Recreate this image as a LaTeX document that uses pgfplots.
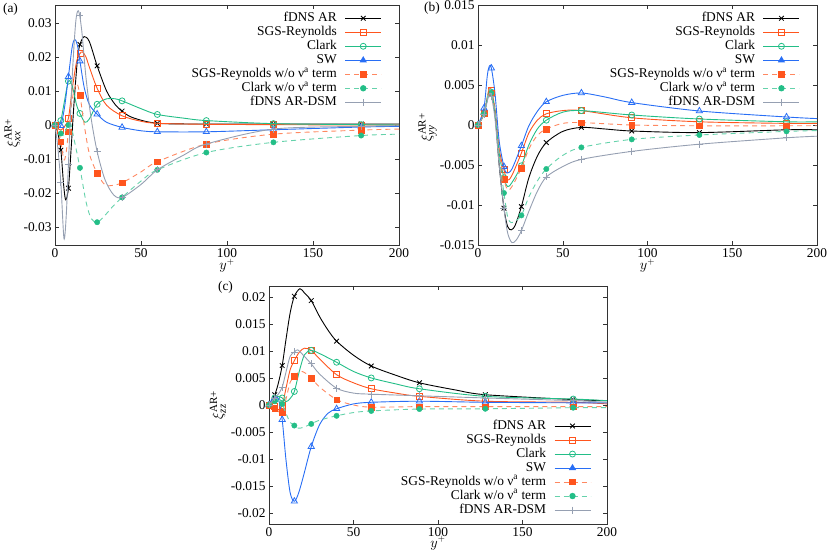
\documentclass[border=0pt]{standalone}
\usepackage{fontspec}
\setmainfont{Liberation Serif}
\usepackage{amsmath}
\usepackage{pgfplots}
\pgfplotsset{compat=1.18}
\usepackage{pgfplotstable}

\definecolor{cR}{RGB}{255,85,30}
\definecolor{cC}{RGB}{35,190,135}
\definecolor{cS}{RGB}{40,110,245}
\definecolor{cD}{RGB}{150,160,178}

% marker tables
\pgfplotstableread{
x A R C S Rw Cw D
0 0 0 0 0 0 0 0
3.4 -0.0074 -0.0015 0.0013 -0.0002 -0.0049 -0.0025 -0.017
7.8 -0.0186 0.002 0.0129 0.0142 -0.002 0.0 -0.0115
14.5 0.0237 0.021 0.0034 0.0188 0.0088 -0.0126 0.0321
24.5 0.0174 0.0108 0.0061 0.0032 -0.0142 -0.0286 -0.0078
39 0.0041 0.0027 0.0071 -0.0007 -0.017 -0.0213 -0.0213
59.5 0.0005 0.0005 0.0031 -0.002 -0.0108 -0.0132 -0.0132
88 0.0003 0.0002 0.0013 -0.002 -0.0056 -0.0081 -0.0056
127 0.0003 0.0001 0.0004 -0.0014 -0.0027 -0.0051 -0.0012
178 0.0003 0.0 0.0001 -0.0006 -0.0015 -0.0031 -0.0004
}\markA

\pgfplotstableread{
x A R C S Rw Cw D
0 0 0 0 0 0 0 0
3.5 0.0014 0.0014 0.0014 0.0021 0.0014 0.0014 0.0013
7.9 0.0038 0.0043 0.0041 0.0071 0.004 0.004 0.0036
15.3 -0.0104 -0.0056 -0.0066 -0.0052 -0.0068 -0.0085 -0.0104
25.6 -0.0102 -0.0035 -0.0051 -0.0026 -0.0054 -0.0113 -0.0132
40.3 -0.0022 0.0014 0.0006 0.0029 -0.0005 -0.0055 -0.0065
61 -0.0003 0.0018 0.0018 0.004 0.0003 -0.0028 -0.0043
90.7 -0.00075 0.0009 0.00125 0.0028 0.0 -0.0018 -0.0033
130.6 -0.00095 0.0004 0.00075 0.00175 -0.0001 -0.00125 -0.0024
182 -0.0006 0.0002 0.0004 0.001 -0.0001 -0.0008 -0.0016
}\markB

\pgfplotstableread{
x A R C S Rw Cw D
0 0 0 0 0 0 0 0
3.4 0.0019 -0.0003 0.0013 0.001 -0.0006 0.0007 0.0013
7.8 0.0073 -0.0001 0.0013 -0.0027 -0.0013 0.0002 0.0033
15 0.0201 0.0082 0.0025 -0.0178 0.0053 -0.0038 0.0098
25 0.0193 0.0101 0.0101 -0.0077 0.005 -0.0035 0.0076
40 0.0118 0.0056 0.0079 -0.0007 0.001 -0.002 0.0031
60.5 0.0072 0.003 0.005 0.0005 -0.0004 -0.0011 0.002
89 0.0041 0.0016 0.003 0.0007 -0.0003 -0.00075 0.0017
128 0.0019 0.0007 0.0016 0.0005 -0.0003 -0.0007 0.0013
180 0.001 0.0005 0.0011 0.0004 -0.0003 -0.0005 0.0008
}\markC

\newcommand{\fs}{\fontsize{13.4}{15}\selectfont}
\newcommand{\xilabel}[1]{$\xi^{\text{\fontsize{11}{11}\selectfont AR+}}_{\text{\fontsize{11}{11}\selectfont\itshape #1}}$}

\pgfplotsset{
  common/.style={
    scale only axis,
    xmin=0, xmax=200,
    xtick={0,50,100,150,200},
    xticklabels={0,50,100,150,200},
    scaled y ticks=false,
    scaled x ticks=false,
    tick align=inside,
    major tick length=4pt,
    axis line style={black!80, line width=0.6pt},
    every tick/.style={black!80, line width=0.5pt},
    tick label style={font=\fs},
    label style={font=\fs},
    clip mode=individual,
    xlabel={$y^{+}$},
    legend cell align=right,
    legend plot pos=right,
    legend style={draw=none, fill=none, font=\fs,
      nodes={inner sep=1pt, text height=9pt, text depth=3pt},
      row sep=0pt, column sep=7pt},
    legend image code/.code={\draw[mark repeat=2,mark phase=2,##1] plot coordinates {(0pt,0pt) (18pt,0pt) (36pt,0pt)};},
  },
  lA/.style={black, line width=0.9pt, smooth, no marks, forget plot},
  lR/.style={cR, line width=0.9pt, smooth, no marks, forget plot},
  lC/.style={cC, line width=0.9pt, smooth, no marks, forget plot},
  lS/.style={cS, line width=0.9pt, smooth, no marks, forget plot},
  lRw/.style={cR!70!white, line width=0.9pt, dash pattern=on 5pt off 4pt, smooth, no marks, forget plot},
  lCw/.style={cC!70!white, line width=0.9pt, dash pattern=on 5pt off 4pt, smooth, no marks, forget plot},
  lD/.style={cD, line width=0.9pt, smooth, no marks, forget plot},
  mA/.style={black, only marks, mark=x, mark size=3.3pt, line width=0.8pt, forget plot},
  mR/.style={cR, only marks, mark=square, mark size=3pt, line width=0.8pt, forget plot},
  mC/.style={cC, only marks, mark=o, mark size=3pt, line width=0.8pt, forget plot},
  mS/.style={cS, only marks, mark=triangle, mark size=3.6pt, line width=0.8pt, forget plot},
  mRw/.style={cR, only marks, mark=square*, mark size=2.8pt, forget plot},
  mCw/.style={cC, only marks, mark=*, mark size=2.7pt, forget plot},
  mD/.style={cD, only marks, mark=+, mark size=3.5pt, line width=0.8pt, forget plot},
}

\newcommand{\legendall}{%
  \addlegendimage{black, line width=0.9pt, mark=x, mark size=3.3pt, mark options={line width=0.8pt}}
  \addlegendentry{fDNS AR}
  \addlegendimage{cR, line width=0.9pt, mark=square, mark size=3pt, mark options={line width=0.8pt}}
  \addlegendentry{SGS-Reynolds}
  \addlegendimage{cC, line width=0.9pt, mark=o, mark size=3pt, mark options={line width=0.8pt}}
  \addlegendentry{Clark}
  \addlegendimage{cS, line width=0.9pt, mark=triangle*, mark size=3.3pt}
  \addlegendentry{SW}
  \addlegendimage{cR!70!white, line width=0.9pt, dash pattern=on 5pt off 4pt, mark=square*, mark size=2.8pt, mark options={solid, cR}}
  \addlegendentry{SGS-Reynolds w/o ν\textsuperscript{a} term}
  \addlegendimage{cC!70!white, line width=0.9pt, dash pattern=on 5pt off 4pt, mark=*, mark size=2.7pt, mark options={solid, cC}}
  \addlegendentry{Clark w/o ν\textsuperscript{a} term}
  \addlegendimage{cD, line width=0.9pt, mark=+, mark size=3.5pt, mark options={line width=0.8pt}}
  \addlegendentry{fDNS AR-DSM}
}

\begin{document}
\begin{tikzpicture}[font=\fs]
\path[use as bounding box] (0,0) rectangle (830pt,556pt);

% ---------------- (a) ----------------
\begin{axis}[common,
  at={(55pt,311pt)}, anchor=south west,
  width=344pt, height=240pt,
  ymin=-0.0353, ymax=0.0353,
  ytick={-0.03,-0.02,-0.01,0,0.01,0.02,0.03},
  yticklabels={-0.03,-0.02,-0.01,0,0.01,0.02,0.03},
  ylabel={\xilabel{xx}},
  ylabel style={at={(axis description cs:-0.124,0.467)}, anchor=center},
  xlabel style={at={(axis description cs:0.5,-0.043)}, anchor=north},
  legend style={at={(axis description cs:0.959,0.983)}, anchor=north east},
]
\addplot[lA] coordinates {(0,0) (1.5,-0.002) (3.4,-0.0074) (5,-0.0175) (6.2,-0.022) (7.8,-0.0186) (9.5,-0.006) (11,0.006) (13,0.019) (14.5,0.0237) (17,0.026) (20,0.0245) (24.5,0.0174) (30,0.010) (35,0.006) (39,0.0041) (45,0.0022) (59.5,0.0005) (88,0.0003) (127,0.0003) (178,0.0003) (200,0.0003)};
\addplot[mA] table[x=x,y=A] {\markA};
\addplot[lR] coordinates {(0,0) (2,-0.0012) (3.4,-0.0015) (5.5,-0.0005) (7.8,0.002) (10,0.0105) (12.5,0.0185) (14.5,0.021) (16,0.0215) (18,0.020) (20,0.017) (24.5,0.0108) (30,0.0058) (39,0.0027) (50,0.0011) (59.5,0.0005) (88,0.0002) (127,0.0001) (178,0) (200,0)};
\addplot[mR] table[x=x,y=R] {\markA};
\addplot[lC] coordinates {(0,0) (2,0.0005) (3.4,0.0013) (5.5,0.007) (7.8,0.0129) (10,0.0115) (12.5,0.006) (14.5,0.0034) (17.4,0.0008) (20,0.0018) (24.5,0.0061) (30,0.0077) (35,0.0077) (39,0.0071) (50,0.0048) (59.5,0.0031) (75,0.002) (88,0.0013) (127,0.0004) (178,0.0001) (200,0)};
\addplot[mC] table[x=x,y=C] {\markA};
\addplot[lS] coordinates {(0,0) (2,-0.0005) (3.4,-0.0002) (5.5,0.005) (7.8,0.0142) (10,0.023) (11.5,0.0252) (13,0.0235) (14.5,0.0188) (17,0.011) (20,0.006) (24.5,0.0032) (30,0.0008) (39,-0.0007) (50,-0.0017) (59.5,-0.002) (88,-0.002) (127,-0.0014) (178,-0.0006) (200,-0.0004)};
\addplot[mS] table[x=x,y=S] {\markA};
\addplot[lRw] coordinates {(0,0) (2,-0.002) (3.4,-0.0049) (5.2,-0.0103) (6.5,-0.008) (7.8,-0.002) (10,0.0075) (12.5,0.0123) (14.5,0.0088) (17,0.0) (20,-0.0085) (24.5,-0.0142) (29,-0.0176) (33,-0.0178) (39,-0.017) (50,-0.0138) (59.5,-0.0108) (88,-0.0056) (127,-0.0027) (178,-0.0015) (200,-0.0012)};
\addplot[mRw] table[x=x,y=Rw] {\markA};
\addplot[lCw] coordinates {(0,0) (2,-0.0015) (3.4,-0.0025) (5,-0.003) (6.5,-0.0012) (7.8,0) (9,0.0005) (11,-0.004) (14.5,-0.0126) (18,-0.0225) (21,-0.0275) (24.5,-0.0286) (28,-0.0272) (33,-0.0243) (39,-0.0213) (50,-0.0165) (59.5,-0.0132) (88,-0.0081) (127,-0.0051) (178,-0.0031) (200,-0.0027)};
\addplot[mCw] table[x=x,y=Cw] {\markA};
\addplot[lD] coordinates {(0,0) (1.5,-0.006) (3.4,-0.017) (5.2,-0.0333) (6.5,-0.027) (7.8,-0.0115) (10,0.014) (12,0.030) (13.6,0.0336) (15.5,0.028) (18,0.014) (21,0.002) (24.5,-0.0078) (29,-0.016) (34,-0.0205) (39,-0.0213) (50,-0.0175) (59.5,-0.0132) (75,-0.0088) (88,-0.0056) (127,-0.0012) (178,-0.0004) (200,-0.0002)};
\addplot[mD] table[x=x,y=D] {\markA};
\legendall
\end{axis}

% ---------------- (b) ----------------
\begin{axis}[common,
  at={(478pt,311pt)}, anchor=south west,
  width=339pt, height=240pt,
  ymin=-0.015, ymax=0.015,
  ytick={-0.015,-0.01,-0.005,0,0.005,0.01,0.015},
  yticklabels={-0.015,-0.01,-0.005,0,0.005,0.01,0.015},
  ylabel={\xilabel{yy}},
  ylabel style={at={(axis description cs:-0.149,0.49)}, anchor=center},
  xlabel style={at={(axis description cs:0.5,-0.043)}, anchor=north},
  legend style={at={(axis description cs:0.959,0.983)}, anchor=north east},
]
\addplot[lA] coordinates {(0,0) (3.5,0.0014) (6.5,0.0041) (7.9,0.0038) (10,0.0015) (12.5,-0.005) (15.3,-0.0104) (17.5,-0.0127) (19.7,-0.0131) (22,-0.0125) (25.6,-0.0102) (30,-0.0066) (35,-0.0039) (40.3,-0.0022) (50,-0.0008) (61,-0.0003) (75,-0.0005) (90.7,-0.00075) (130.6,-0.00095) (182,-0.0006) (200,-0.0006)};
\addplot[mA] table[x=x,y=A] {\markB};
\addplot[lR] coordinates {(0,0) (3.5,0.0014) (6.5,0.0045) (7.9,0.0043) (10,0.002) (12.5,-0.003) (15.3,-0.0056) (17.3,-0.0069) (20,-0.0063) (25.6,-0.0035) (30,-0.001) (35,0.0006) (40.3,0.0014) (50,0.0018) (61,0.0018) (90.7,0.0009) (130.6,0.0004) (182,0.0002) (200,0.0002)};
\addplot[mR] table[x=x,y=R] {\markB};
\addplot[lC] coordinates {(0,0) (3.5,0.0014) (6.5,0.0043) (7.9,0.0041) (10,0.0017) (12.5,-0.0035) (15.3,-0.0066) (17.5,-0.0077) (20,-0.0072) (25.6,-0.0051) (30,-0.0025) (35,-0.0005) (40.3,0.0006) (50,0.0016) (61,0.0018) (90.7,0.00125) (130.6,0.00075) (182,0.0004) (200,0.0004)};
\addplot[mC] table[x=x,y=C] {\markB};
\addplot[lS] coordinates {(0,0) (3.5,0.0021) (5.5,0.0062) (6.8,0.0074) (7.9,0.0071) (10,0.004) (12.5,-0.002) (15.3,-0.0052) (17,-0.006) (20,-0.0055) (25.6,-0.0026) (30,-0.0001) (35,0.0017) (40.3,0.0029) (50,0.0037) (61,0.004) (75,0.0035) (90.7,0.0028) (130.6,0.00175) (182,0.001) (200,0.0008)};
\addplot[mS] table[x=x,y=S] {\markB};
\addplot[lRw] coordinates {(0,0) (3.5,0.0014) (6.5,0.0044) (7.9,0.004) (10,0.0015) (12.5,-0.0035) (15.3,-0.0068) (17.5,-0.0081) (20,-0.0077) (25.6,-0.0054) (30,-0.003) (35,-0.0013) (40.3,-0.0005) (50,0.0002) (61,0.0003) (90.7,0.0) (130.6,-0.0001) (182,-0.0001) (200,-0.0001)};
\addplot[mRw] table[x=x,y=Rw] {\markB};
\addplot[lCw] coordinates {(0,0) (3.5,0.0014) (6.5,0.0043) (7.9,0.004) (10,0.0013) (12.5,-0.004) (15.3,-0.0085) (17.5,-0.0115) (19.5,-0.0122) (22,-0.012) (25.6,-0.0113) (30,-0.009) (35,-0.007) (40.3,-0.0055) (50,-0.0038) (61,-0.0028) (90.7,-0.0018) (130.6,-0.00125) (182,-0.0008) (200,-0.0007)};
\addplot[mCw] table[x=x,y=Cw] {\markB};
\addplot[lD] coordinates {(0,0) (3.5,0.0013) (6.5,0.0038) (7.9,0.0036) (10,0.0008) (12.5,-0.005) (15.3,-0.0104) (17.5,-0.0135) (20,-0.0147) (22.5,-0.0144) (25.6,-0.0132) (30,-0.0108) (35,-0.0083) (40.3,-0.0065) (50,-0.0052) (61,-0.0043) (90.7,-0.0033) (130.6,-0.0024) (182,-0.0016) (200,-0.0014)};
\addplot[mD] table[x=x,y=D] {\markB};
\legendall
\end{axis}

% ---------------- (c) ----------------
\begin{axis}[common,
  at={(269pt,32pt)}, anchor=south west,
  width=338pt, height=238pt,
  ymin=-0.022, ymax=0.022,
  ytick={-0.02,-0.015,-0.01,-0.005,0,0.005,0.01,0.015,0.02},
  yticklabels={-0.02,-0.015,-0.01,-0.005,0,0.005,0.01,0.015,0.02},
  ylabel={\xilabel{zz}},
  ylabel style={at={(axis description cs:-0.151,0.5)}, anchor=center},
  xlabel style={at={(axis description cs:0.5,-0.038)}, anchor=north},
  legend style={at={(axis description cs:0.962,0.02)}, anchor=south east},
]
\addplot[lA] coordinates {(0,0) (3.4,0.0019) (5.5,0.004) (7.8,0.0073) (10,0.012) (12.5,0.017) (15,0.0201) (18.3,0.0215) (21,0.0207) (25,0.0193) (30,0.0163) (35,0.0138) (40,0.0118) (50,0.0092) (60.5,0.0072) (75,0.0055) (89,0.0041) (110,0.0028) (128,0.0019) (180,0.001) (200,0.0008)};
\addplot[mA] table[x=x,y=A] {\markC};
\addplot[lR] coordinates {(0,0) (3.4,-0.0003) (5.5,-0.0009) (7.8,-0.0001) (10,0.003) (12.5,0.0065) (15,0.0082) (18,0.0098) (21,0.0105) (25,0.0101) (30,0.0085) (40,0.0056) (50,0.0041) (60.5,0.003) (75,0.0022) (89,0.0016) (128,0.0007) (180,0.0005) (200,0.0002)};
\addplot[mR] table[x=x,y=R] {\markC};
\addplot[lC] coordinates {(0,0) (3.4,0.0013) (5.5,0.0016) (7.8,0.0013) (10,0.0006) (12.5,0.0012) (15,0.0025) (18,0.0063) (21,0.0093) (25,0.0101) (30,0.0095) (40,0.0079) (50,0.0062) (60.5,0.005) (75,0.0039) (89,0.003) (128,0.0016) (180,0.0011) (200,0.0008)};
\addplot[mC] table[x=x,y=C] {\markC};
\addplot[lS] coordinates {(0,0) (2,0.0012) (3.4,0.001) (5.5,0.0012) (7.8,-0.0027) (10,-0.010) (12.5,-0.0162) (15,-0.0178) (17.5,-0.0163) (20.5,-0.013) (25,-0.0077) (30,-0.0036) (35,-0.0015) (40,-0.0007) (50,0.0002) (60.5,0.0005) (89,0.0007) (128,0.0005) (180,0.0004) (200,0.0004)};
\addplot[mS] table[x=x,y=S] {\markC};
\addplot[lRw] coordinates {(0,0) (3.4,-0.0006) (5.5,-0.0012) (7.8,-0.0013) (10,0.001) (12.5,0.0042) (15,0.0053) (18.3,0.0062) (21,0.006) (25,0.005) (30,0.0033) (40,0.001) (50,0.0) (60.5,-0.0004) (89,-0.0003) (128,-0.0003) (180,-0.0003) (200,-0.0003)};
\addplot[mRw] table[x=x,y=Rw] {\markC};
\addplot[lCw] coordinates {(0,0) (3.4,0.0007) (5.5,0.0008) (7.8,0.0002) (10,-0.0015) (12.5,-0.0032) (15,-0.0038) (17.5,-0.0043) (20.5,-0.0041) (25,-0.0035) (30,-0.0028) (40,-0.002) (50,-0.0014) (60.5,-0.0011) (89,-0.00075) (128,-0.0007) (180,-0.0005) (200,-0.0005)};
\addplot[mCw] table[x=x,y=Cw] {\markC};
\addplot[lD] coordinates {(0,0) (3.4,0.0013) (5.5,0.002) (7.8,0.0033) (10,0.006) (12.5,0.009) (15,0.0098) (17,0.0102) (20,0.0093) (25,0.0076) (30,0.0057) (40,0.0031) (50,0.0022) (60.5,0.002) (89,0.0017) (128,0.0013) (180,0.0008) (200,0.0005)};
\addplot[mD] table[x=x,y=D] {\markC};
\legendall
\end{axis}

\node at (10.5pt,547pt) {(a)};
\node at (432pt,548pt) {(b)};
\node at (225.5pt,269pt) {(c)};
\end{tikzpicture}
\end{document}
